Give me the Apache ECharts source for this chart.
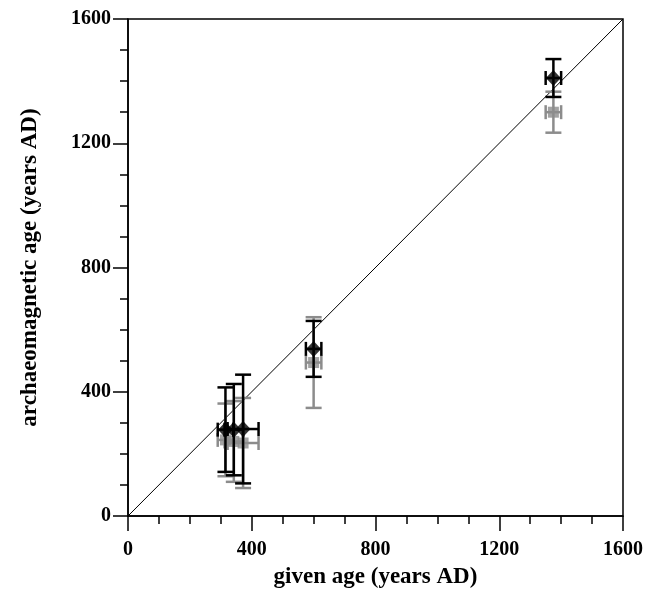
<!DOCTYPE html>
<html>
<head>
<meta charset="utf-8">
<script src="https://cdn.jsdelivr.net/npm/echarts@6/dist/echarts.min.js"></script>
<style>html,body{margin:0;padding:0;background:#fff;}#c{width:662px;height:599px;}</style>
</head>
<body>
<div id="c"></div>
<script>
// given age (x) and its error
var givenAge = [315, 342, 372, 600, 1375];
var givenErr = [25, 30, 50, 25, 25];
// archaeomagnetic age, black diamonds
var blackAge = [278, 278, 280, 538, 1410];
var blackErr = [136, 147, 175, 90, 61];
// archaeomagnetic age, grey squares
var greyAge = [245, 240, 235, 494, 1300];
var greyErr = [117, 130, 145, 146, 66];
// one-to-one line
var diagX = [0, 1600];
var axisTicks = [0, 400, 800, 1200, 1600];

var FONT = 'Liberation Serif';
var chart = echarts.init(document.getElementById('c'));

function errData(ys, yerr) {
  return givenAge.map(function (x, i) { return [x, ys[i], givenErr[i], yerr[i]]; });
}
function errRender(color) {
  return function (params, api) {
    var x = api.value(0), y = api.value(1), xe = api.value(2), ye = api.value(3);
    var c = api.coord([x, y]);
    var top = api.coord([x, y + ye]), bot = api.coord([x, y - ye]);
    var lef = api.coord([x - xe, y]), rig = api.coord([x + xe, y]);
    var h = 8;
    var st = { stroke: color, lineWidth: 2.5 };
    function ln(x1, y1, x2, y2) { return { type: 'line', shape: { x1: x1, y1: y1, x2: x2, y2: y2 }, style: st }; }
    return {
      type: 'group',
      children: [
        ln(c[0], top[1], c[0], bot[1]),
        ln(c[0] - h, top[1], c[0] + h, top[1]),
        ln(c[0] - h, bot[1], c[0] + h, bot[1]),
        ln(lef[0], c[1], rig[0], c[1]),
        ln(lef[0], c[1] - h + 1, lef[0], c[1] + h - 1),
        ln(rig[0], c[1] - h + 1, rig[0], c[1] + h - 1)
      ]
    };
  };
}

var labelFmt = function (v) { return String(v); };

var axisCommon = {
  type: 'value', min: 0, max: 1600, interval: 400,
  axisLine: { show: true, onZero: false, lineStyle: { color: '#000', width: 1.5 } },
  axisTick: { show: true, inside: false, length: 15, lineStyle: { color: '#000', width: 1.5 } },
  minorTick: { show: true, splitNumber: 4, length: 8, lineStyle: { color: '#000', width: 1.5 } },
  splitLine: { show: false },
  nameLocation: 'middle',
  nameTextStyle: { fontFamily: FONT, fontWeight: 'bold', fontSize: 23, color: '#000' }
};

chart.setOption({
  animation: false,
  backgroundColor: '#fff',
  grid: { left: 128, right: 39, top: 19, bottom: 83, show: true, borderColor: '#000', borderWidth: 1.5 },
  xAxis: Object.assign({}, axisCommon, {
    name: 'given age (years AD)', nameGap: 50,
    axisLabel: { fontFamily: FONT, fontWeight: 'bold', fontSize: 20, color: '#000', margin: 24, formatter: labelFmt }
  }),
  yAxis: Object.assign({}, axisCommon, {
    name: 'archaeomagnetic age (years AD)', nameGap: 86,
    axisLabel: { fontFamily: FONT, fontWeight: 'bold', fontSize: 20, color: '#000', margin: 17, formatter: labelFmt }
  }),
  series: [
    {
      type: 'line', data: diagX.map(function (v) { return [v, v]; }),
      symbol: 'none', lineStyle: { color: '#000', width: 1 }, z: 1, silent: true
    },
    {
      type: 'custom', data: errData(greyAge, greyErr), renderItem: errRender('#8c8c8c'),
      encode: { x: 0, y: 1 }, z: 2
    },
    {
      type: 'scatter', data: givenAge.map(function (x, i) { return [x, greyAge[i]]; }),
      symbol: 'rect', symbolSize: 11, itemStyle: { color: '#8c8c8c' }, z: 3
    },
    {
      type: 'custom', data: errData(blackAge, blackErr), renderItem: errRender('#000'),
      encode: { x: 0, y: 1 }, z: 4
    },
    {
      type: 'scatter', data: givenAge.map(function (x, i) { return [x, blackAge[i]]; }),
      symbol: 'diamond', symbolSize: [15, 16], itemStyle: { color: '#000' }, z: 5
    }
  ]
});
</script>
</body>
</html>
